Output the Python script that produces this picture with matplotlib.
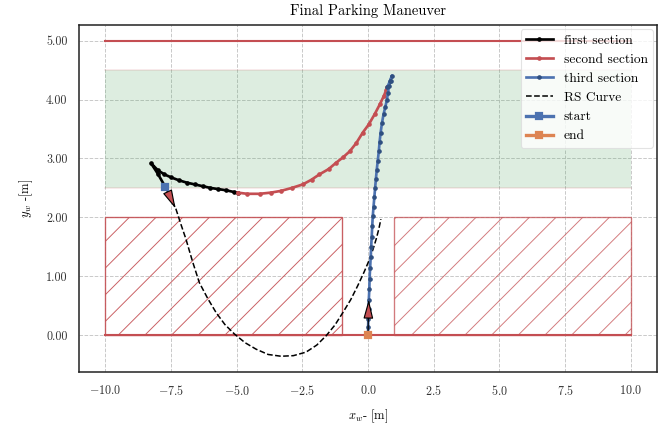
import numpy as np
import matplotlib
matplotlib.use('Agg')
import matplotlib.pyplot as plt
from matplotlib.patches import Rectangle
from matplotlib.ticker import FormatStrFormatter

# ─── Data ────────────────────────────────────────────────────────────────────

first_x = [-7.72, -8.00, -8.26, -8.00, -7.75, -7.50, -7.20, -6.90, -6.60,
           -6.30, -6.00, -5.70, -5.40, -5.10, -4.96]
first_y = [2.52, 2.74, 2.92, 2.80, 2.73, 2.68, 2.63, 2.59, 2.56,
           2.53, 2.50, 2.48, 2.46, 2.43, 2.42]

second_x = [-4.96, -4.60, -4.13, -3.70, -3.31, -2.90, -2.48, -2.15, -1.85,
            -1.50, -1.21, -0.95, -0.70, -0.45, -0.20, 0.03, 0.25, 0.45,
            0.60, 0.69, 0.74]
second_y = [2.42, 2.40, 2.40, 2.42, 2.45, 2.50, 2.56, 2.64, 2.73,
            2.82, 2.93, 3.02, 3.12, 3.26, 3.44, 3.58, 3.75, 3.92,
            4.06, 4.16, 4.22]

third_x = [0.74, 0.84, 0.91, 0.86, 0.80, 0.76, 0.72, 0.66, 0.59, 0.53, 0.48,
           0.44, 0.41, 0.37, 0.33, 0.30, 0.27, 0.24, 0.21, 0.18, 0.16, 0.14,
           0.12, 0.10, 0.08, 0.06, 0.05, 0.03, 0.02, 0.01, 0.005, 0.0]
third_y = [4.22, 4.32, 4.41, 4.32, 4.23, 4.12, 4.00, 3.88, 3.75, 3.60, 3.44,
           3.28, 3.12, 2.96, 2.80, 2.65, 2.50, 2.34, 2.18, 2.02, 1.85, 1.67,
           1.50, 1.32, 1.14, 0.96, 0.78, 0.60, 0.44, 0.28, 0.14, 0.0]

rs_x = [-7.72, -7.50, -7.31, -7.12, -6.93, -6.68, -6.42, -6.10, -5.78, -5.45,
        -5.09, -4.68, -4.26, -3.80, -3.31, -2.84, -2.36, -1.95, -1.59, -1.26,
        -0.96, -0.66, -0.39, -0.15, 0.06, 0.20, 0.31, 0.41, 0.49]
rs_y = [2.52, 2.32, 2.14, 1.88, 1.63, 1.25, 0.89, 0.62, 0.38, 0.18,
        0.02, -0.13, -0.24, -0.33, -0.36, -0.35, -0.29, -0.17, -0.01, 0.17,
        0.38, 0.60, 0.84, 1.07, 1.29, 1.47, 1.63, 1.80, 1.97]

start_pt = (-7.72, 2.52)
start_tip = (-7.25, 2.08)
end_pt = (0.0, 0.0)
end_tip = (0.03, 0.68)

road_x = [-10, 10]
road_top = 5.0
road_bottom = 0.0
lane_band = (2.5, 4.5)
left_slot = (-10, 0, 9, 2)     # x, y, width, height
right_slot = (1, 0, 9, 2)

# ─── Style ───────────────────────────────────────────────────────────────────

BLUE, ORANGE, GREEN, RED = '#4C72B0', '#DD8452', '#55A868', '#C44E52'

plt.rcParams['font.family'] = ['cmr10', 'DejaVu Serif']
plt.rcParams['mathtext.fontset'] = 'cm'
plt.rcParams['axes.formatter.use_mathtext'] = True
plt.rcParams['axes.unicode_minus'] = True

DPI = 160
S = 138 / DPI          # sizes below were tuned at 138 dpi
plt.rcParams['hatch.linewidth'] = 0.5 * S

fig = plt.figure(figsize=(672 / DPI, 424 / DPI), dpi=DPI)
ax = fig.add_axes([0.1176, 0.1226, 0.8601, 0.8184])

# road edges and lane
ax.plot(road_x, [road_top, road_top], color=RED, lw=1.1 * S, zorder=2)
ax.plot(road_x, [road_bottom, road_bottom], color=RED, lw=1.1 * S, zorder=2)
ax.fill_between(road_x, lane_band[0], lane_band[1], color=GREEN, alpha=0.2,
                lw=0, zorder=1)
for yb in lane_band:
    ax.plot(road_x, [yb, yb], color=RED, alpha=0.15, lw=0.8 * S, zorder=1)

# parking slots (obstacles)
for (x0, y0, w, h), a in [(left_slot, 0.9), (right_slot, 0.75)]:
    ax.add_patch(Rectangle((x0, y0), w, h, fill=False, edgecolor=RED,
                           alpha=a, hatch='//', lw=0.7 * S, zorder=1.5))

# path
ax.plot(rs_x, rs_y, 'k--', lw=0.8 * S, zorder=3, label='RS Curve')
ax.plot(first_x, first_y, color='k', marker='.', ms=2.5 * S, lw=1.4 * S,
        zorder=4, label='first section')
ax.plot(second_x, second_y, color=RED, marker='.', ms=2.5 * S, lw=1.4 * S,
        zorder=4, label='second section')
ax.plot(third_x, third_y, color=BLUE, marker='.', ms=2.5 * S, lw=1.4 * S,
        mec='#2f4f80', zorder=4, label='third section')

# heading arrows
arrow_kw = dict(arrowstyle='-|>,head_length=0.85,head_width=0.22',
                fc=RED, ec='k', lw=0.6 * S, mutation_scale=10 * S)
ax.annotate('', xy=start_tip, xytext=start_pt, arrowprops=arrow_kw, zorder=5)
ax.annotate('', xy=end_tip, xytext=end_pt, arrowprops=arrow_kw, zorder=5)

ax.plot(*start_pt, marker='s', ms=3.6 * S, color=BLUE, zorder=6, label='start')
ax.plot(*end_pt, marker='s', ms=3.6 * S, color=ORANGE, zorder=6, label='end')

# axes cosmetics
ax.set_title('Final Parking Maneuver', fontsize=7.6 * S, pad=5 * S)
ax.set_xlabel(r'$x_{w}$- [m]', fontsize=6.5 * S, labelpad=5 * S)
ax.set_ylabel(r'$y_{w}$ -[m]', fontsize=6.5 * S, labelpad=6 * S)
ax.yaxis.set_major_formatter(FormatStrFormatter('%.2f'))
ax.tick_params(length=0, labelsize=6.3 * S, pad=6 * S, labelcolor='#333333')
ax.grid(True, ls='--', lw=0.5 * S, color='#c8c8c8')
ax.set_axisbelow(True)
for sp in ax.spines.values():
    sp.set_color('#222222')
    sp.set_linewidth(0.8 * S)

handles, labels = ax.get_legend_handles_labels()
order = ['first section', 'second section', 'third section', 'RS Curve',
         'start', 'end']
hl = dict(zip(labels, handles))
leg = ax.legend([hl[k] for k in order], order, loc='upper right',
                fontsize=7 * S, framealpha=0.8, edgecolor='#dddddd',
                borderaxespad=0.3)
leg.get_frame().set_linewidth(0.6 * S)

fig.savefig('out.png', dpi=DPI)
